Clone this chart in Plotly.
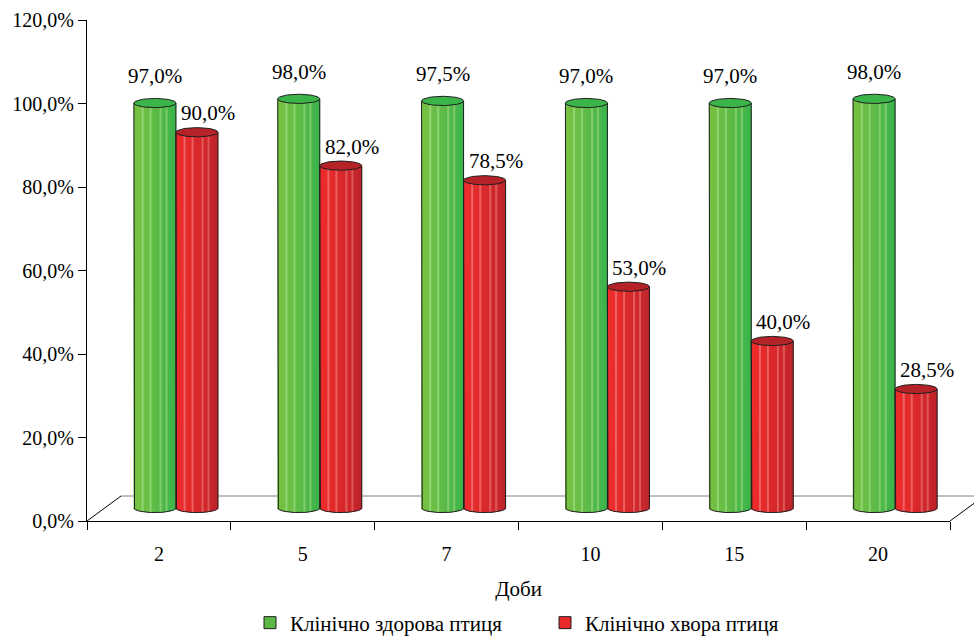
import numpy as np
import plotly.graph_objects as go

# ---- data -------------------------------------------------------------
days = ["2", "5", "7", "10", "15", "20"]
healthy = [97.0, 98.0, 97.5, 97.0, 97.0, 98.0]
sick = [90.0, 82.0, 78.5, 53.0, 40.0, 28.5]
series_names = ["Клінічно здорова птиця", "Клінічно хвора птиця"]
x_title = "Доби"

# ---- styling ----------------------------------------------------------
FONT = '"Liberation Serif", "Times New Roman", "DejaVu Serif", serif'
W, H = 974, 637
M_L, M_R, M_T, M_B = 87, 24, 20, 116
PW, PH = W - M_L - M_R, H - M_T - M_B          # plot area in px
Y_MAX = 120.0
PX_PER_CAT = PW / len(days)
PX_PER_PCT = PH / Y_MAX

# 3-D look: bars stand half-way into the floor depth
DEPTH_DX, DEPTH_DY = 34, 25                      # full floor depth in px
BAR_DX, BAR_DY = 17, 13                          # bar plane offset in px
sx = BAR_DX / PX_PER_CAT
sy = BAR_DY / PX_PER_PCT

BAR_W = 42 / PX_PER_CAT                          # one cylinder width (category units)
CAP_H = 4.6 / PX_PER_PCT                         # half height of ellipses (pct units)
N_STRIPS = 21

styles = [
    dict(left=(0x76, 0xc1, 0x43), right=(0x3a, 0xb4, 0x4b),
         hi=(0x9a, 0xd6, 0x78), cap="#3bb54a", legend="#5cb946",
         label_dx=0, label_dy=27),
    dict(left=(0xee, 0x2b, 0x2b), right=(0xbe, 0x25, 0x2a),
         hi=(0xf2, 0x6a, 0x6a), cap="#b52227", legend="#e8282a",
         label_dx=11, label_dy=19),
]
highlight_idx = {4, 8, 13, 16}
OUTLINE = "#1e1e1e"


def mix(c1, c2, t):
    return "rgb({},{},{})".format(*[int(round(a + (b - a) * t)) for a, b in zip(c1, c2)])


fig = go.Figure()

# invisible anchor so the category axis carries the day labels
fig.add_trace(go.Scatter(x=days, y=[0] * len(days), mode="markers",
                         marker=dict(opacity=0), hoverinfo="skip",
                         showlegend=False, xaxis="x", yaxis="y"))

idx = np.arange(len(days), dtype=float)
all_values = [healthy, sick]

for s, (vals, st) in enumerate(zip(all_values, styles)):
    centers = idx + (s - 0.5) * BAR_W
    step = BAR_W / N_STRIPS
    # vertical strips give the shaded cylinder body, with a curved bottom
    for k in range(N_STRIPS):
        u = -1 + (2 * k + 1) / N_STRIPS
        t = k / (N_STRIPS - 1)
        col = mix(st["left"], st["right"], t ** 1.3)
        if k in highlight_idx:
            col = mix(st["hi"], st["right"], t * 0.4)
        base = -CAP_H * np.sqrt(max(0.0, 1 - u * u))
        fig.add_trace(go.Bar(
            x=centers - BAR_W / 2 + (k + 0.5) * step,
            y=[v - base for v in vals], base=base,
            width=step * 1.35, marker=dict(color=col, line=dict(width=0)),
            hoverinfo="skip", showlegend=False, xaxis="x2", yaxis="y2"))

    # outline: both sides plus the lower half of the base ellipse
    theta = np.linspace(np.pi, 2 * np.pi, 40)
    for c, v in zip(centers, vals):
        xs = [c - BAR_W / 2] + list(c + BAR_W / 2 * np.cos(theta)) + [c + BAR_W / 2]
        ys = [v] + list(CAP_H * np.sin(theta)) + [v]
        fig.add_trace(go.Scatter(x=xs, y=ys, mode="lines",
                                 line=dict(color=OUTLINE, width=1),
                                 hoverinfo="skip", showlegend=False,
                                 xaxis="x2", yaxis="y2"))
        # top cap
        phi = np.linspace(0, 2 * np.pi, 60)
        fig.add_trace(go.Scatter(x=c + BAR_W / 2 * np.cos(phi),
                                 y=v + CAP_H * np.sin(phi),
                                 mode="lines", fill="toself", fillcolor=st["cap"],
                                 line=dict(color=OUTLINE, width=1),
                                 hoverinfo="skip", showlegend=False,
                                 xaxis="x2", yaxis="y2"))
        fig.add_annotation(x=c, y=v, xref="x2", yref="y2",
                           text=f"{v:.1f}".replace(".", ",") + "%",
                           showarrow=False, yanchor="middle",
                           xshift=st["label_dx"], yshift=st["label_dy"],
                           font=dict(family=FONT, size=21, color="black"))

    # legend entry
    fig.add_trace(go.Bar(x=[None], y=[None], name=series_names[s],
                         marker=dict(color=st["legend"], line=dict(color=OUTLINE, width=1)),
                         xaxis="x2", yaxis="y2"))

# floor of the 3-D box
fx = DEPTH_DX / PW
fy = DEPTH_DY / PH
fig.add_shape(type="line", xref="paper", yref="paper", x0=fx, y0=fy, x1=1 + fx, y1=fy,
              line=dict(color="#808080", width=1), layer="below")
fig.add_shape(type="line", xref="paper", yref="paper", x0=0, y0=0, x1=fx, y1=fy,
              line=dict(color="black", width=1), layer="below")
fig.add_shape(type="line", xref="paper", yref="paper", x0=1, y0=0, x1=1 + fx, y1=fy,
              line=dict(color="black", width=1), layer="below")

fig.update_layout(
    width=W, height=H, autosize=False,
    margin=dict(l=M_L, r=M_R, t=M_T, b=M_B, autoexpand=False),
    paper_bgcolor="white", plot_bgcolor="white",
    separators=", ",
    barmode="overlay",
    font=dict(family=FONT, size=20, color="black"),
    showlegend=True,
    legend=dict(orientation="h", x=(250 - M_L) / PW, xanchor="left",
                y=-0.2036, yanchor="middle",
                font=dict(family=FONT, size=21, color="black"),
                itemwidth=30, entrywidth=250, traceorder="normal"),
    xaxis=dict(type="category", categoryorder="array", categoryarray=days,
               range=[-0.5, len(days) - 0.5], tickson="boundaries",
               ticks="outside", ticklen=8, tickcolor="black", ticklabelstandoff=15,
               showline=True, linecolor="black", linewidth=1,
               showgrid=False, zeroline=False, automargin=False,
               tickfont=dict(family=FONT, size=20),
               title=dict(text=x_title, standoff=17, font=dict(family=FONT, size=21))),
    yaxis=dict(range=[0, Y_MAX], dtick=20, tickformat=".1f", ticksuffix="%",
               ticks="outside", ticklen=8, tickcolor="black",
               showline=True, linecolor="black", linewidth=1,
               showgrid=False, zeroline=False, automargin=False,
               tickfont=dict(family=FONT, size=20)),
    xaxis2=dict(overlaying="x", anchor="y2", type="linear",
                range=[-0.5 - sx, len(days) - 0.5 - sx], visible=False),
    yaxis2=dict(overlaying="y", anchor="x2",
                range=[-sy, Y_MAX - sy], visible=False),
)

fig.write_html("out.html")
